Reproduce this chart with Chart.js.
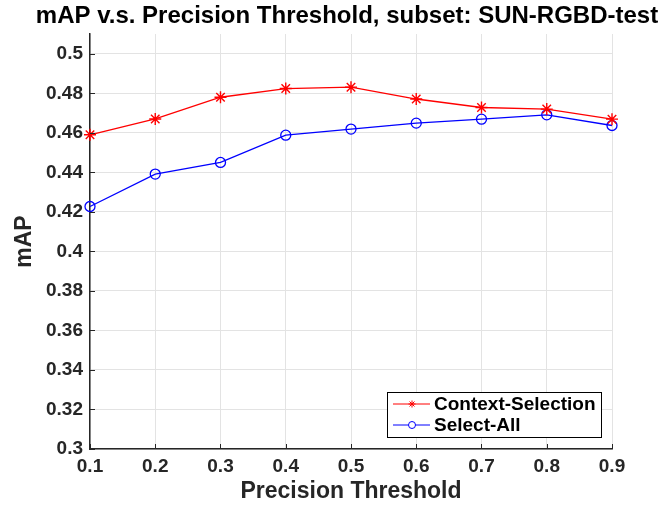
<!DOCTYPE html>
<html>
<head>
<meta charset="utf-8">
<script src="https://cdn.jsdelivr.net/npm/chart.js@4/dist/chart.umd.min.js"></script>
<style>
  html, body { margin: 0; padding: 0; background: #fff; }
  #wrap { width: 662px; height: 505px; }
</style>
</head>
<body>
<div id="wrap"><canvas id="mapChart" width="662" height="505"></canvas></div>
<script>
// data
const thresholds = [0.1, 0.2, 0.3, 0.4, 0.5, 0.6, 0.7, 0.8, 0.9];
const contextSelection = [0.459, 0.467, 0.478, 0.4824, 0.4831, 0.4771, 0.4728, 0.472, 0.4669];
const selectAll = [0.4227, 0.4391, 0.445, 0.4588, 0.4619, 0.4649, 0.4669, 0.4691, 0.4637];
const xTicks = [0.1, 0.2, 0.3, 0.4, 0.5, 0.6, 0.7, 0.8, 0.9];
const yTicks = [0.3, 0.32, 0.34, 0.36, 0.38, 0.4, 0.42, 0.44, 0.46, 0.48, 0.5];

const FONT = '"Liberation Sans", Arial, Helvetica, sans-serif';
const INK = '#262626';

function fmt(v) {
  return String(parseFloat(v.toFixed(4)));
}

// title, inward tick marks and the boxed legend, MATLAB style
const matlabBits = {
  id: 'matlabBits',
  afterDraw(chart) {
    const ctx = chart.ctx;
    const a = chart.chartArea;
    const xs = chart.scales.x, ys = chart.scales.y;
    ctx.save();

    // title over the axes
    ctx.fillStyle = '#000';
    ctx.font = 'bold 24px ' + FONT;
    ctx.textAlign = 'center';
    ctx.textBaseline = 'alphabetic';
    ctx.fillText('mAP v.s. Precision Threshold, subset: SUN-RGBD-test', 347, 23);

    // inward ticks
    ctx.strokeStyle = INK;
    ctx.lineWidth = 1;
    xTicks.forEach(v => {
      const px = Math.round(xs.getPixelForValue(v)) + 0.5;
      ctx.beginPath();
      ctx.moveTo(px, a.bottom);
      ctx.lineTo(px, a.bottom - 5);
      ctx.stroke();
    });
    yTicks.forEach(v => {
      const py = Math.round(ys.getPixelForValue(v)) + 0.5;
      ctx.beginPath();
      ctx.moveTo(a.left, py);
      ctx.lineTo(a.left + 5, py);
      ctx.stroke();
    });

    // legend
    const bx = a.right - 225, by = a.bottom - 57, bw = 214, bh = 45;
    ctx.fillStyle = '#fff';
    ctx.fillRect(bx, by, bw, bh);
    ctx.strokeStyle = '#000';
    ctx.lineWidth = 1;
    ctx.strokeRect(bx + 0.5, by + 0.5, bw, bh);
    ctx.font = 'bold 19px ' + FONT;
    ctx.textAlign = 'left';
    ctx.textBaseline = 'middle';
    chart.data.datasets.forEach((ds, i) => {
      const cy = by + 12 + i * 21;
      ctx.strokeStyle = ds.borderColor;
      ctx.lineWidth = 1;
      ctx.beginPath();
      ctx.moveTo(bx + 6, cy);
      ctx.lineTo(bx + 43, cy);
      ctx.stroke();
      ctx.fillStyle = '#fff';
      Chart.helpers.drawPoint(ctx, {
        pointStyle: ds.pointStyle, radius: 3.5, borderWidth: 1
      }, bx + 25, cy);
      ctx.fillStyle = '#000';
      ctx.fillText(ds.label, bx + 47, cy + 1);
    });
    ctx.restore();
  }
};

const ctx = document.getElementById('mapChart').getContext('2d');
new Chart(ctx, {
  type: 'line',
  data: {
    labels: thresholds,
    datasets: [
      {
        label: 'Context-Selection',
        data: thresholds.map((t, i) => ({ x: t, y: contextSelection[i] })),
        borderColor: '#ff0000',
        backgroundColor: 'rgba(0,0,0,0)',
        pointBorderColor: '#ff0000',
        pointStyle: 'star',
        pointRadius: 6,
        pointBorderWidth: 1.4,
        borderWidth: 1.3,
        tension: 0,
        clip: false
      },
      {
        label: 'Select-All',
        data: thresholds.map((t, i) => ({ x: t, y: selectAll[i] })),
        borderColor: '#0000ff',
        backgroundColor: 'rgba(0,0,0,0)',
        pointBorderColor: '#0000ff',
        pointStyle: 'circle',
        pointRadius: 5,
        pointBorderWidth: 1.3,
        borderWidth: 1.3,
        tension: 0,
        clip: false
      }
    ]
  },
  options: {
    responsive: false,
    animation: false,
    layout: { padding: { top: 34, right: 50, left: 0, bottom: 0 } },
    plugins: {
      legend: { display: false },
      title: { display: false },
      tooltip: { enabled: false }
    },
    scales: {
      x: {
        type: 'linear',
        min: 0.1,
        max: 0.9,
        afterBuildTicks: s => { s.ticks = xTicks.map(v => ({ value: v })); },
        afterFit: s => { s.height = 56; },
        grid: { color: '#e3e3e3', drawTicks: false },
        border: { color: INK, width: 1.5 },
        ticks: {
          color: INK,
          padding: 6,
          font: { family: FONT, size: 19, weight: 'bold' },
          callback: v => fmt(v)
        },
        title: {
          display: true,
          text: 'Precision Threshold',
          color: INK,
          font: { family: FONT, size: 23, weight: 'bold' },
          padding: { top: 0, bottom: 0 }
        }
      },
      y: {
        min: 0.3,
        max: 0.51,
        afterBuildTicks: s => { s.ticks = yTicks.map(v => ({ value: v })); },
        afterFit: s => { s.width = 90; },
        grid: { color: '#e3e3e3', drawTicks: false },
        border: { color: INK, width: 1.5 },
        ticks: {
          color: INK,
          padding: 7,
          font: { family: FONT, size: 19, weight: 'bold' },
          callback: v => fmt(v)
        },
        title: {
          display: true,
          text: 'mAP',
          color: INK,
          font: { family: FONT, size: 23, weight: 'bold' },
          padding: { top: 11, bottom: 0 }
        }
      }
    }
  },
  plugins: [matlabBits]
});
</script>
</body>
</html>
